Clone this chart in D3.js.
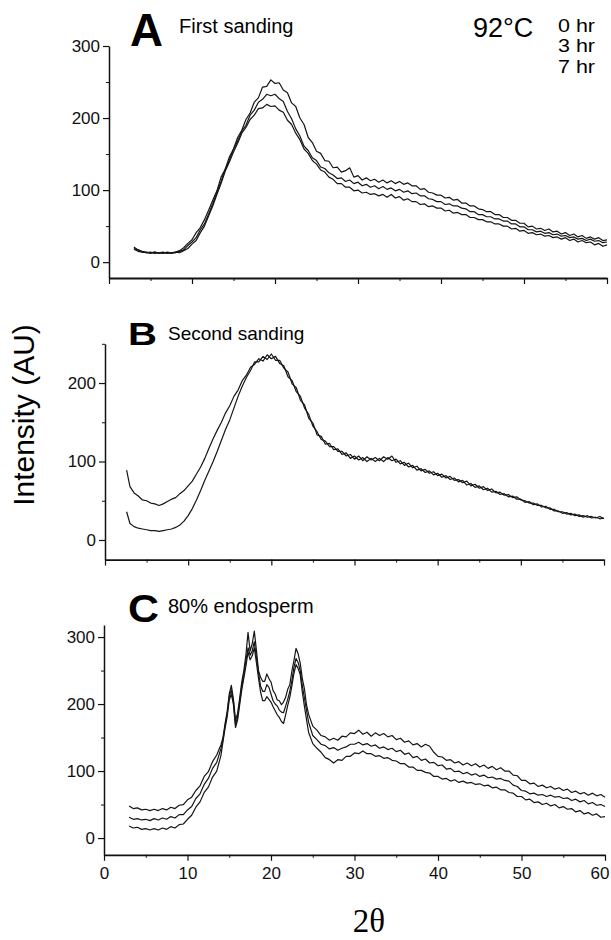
<!DOCTYPE html>
<html>
<head>
<meta charset="utf-8">
<script src="https://cdn.jsdelivr.net/npm/d3@7"></script>
<style>
  body { margin: 0; background: #fff; }
  svg { display: block; font-family: "Liberation Sans", Arial, sans-serif; }
  .axis path, .axis line { stroke: #111; }
  .axis text { fill: #111; }
</style>
</head>
<body>
<svg width="611" height="940"></svg>
<script>
// 2-theta grid (deg) for panels A and B
const theta = [
  3, 3.5, 4, 4.5, 5, 5.5, 6, 6.5, 7, 7.5,
  8, 8.5, 9, 9.5, 10, 10.5, 11, 11.5, 12, 12.5,
  13, 13.5, 14, 14.5, 15, 15.5, 16, 16.5, 17, 17.5,
  18, 18.5, 19, 19.5, 20, 20.5, 21, 21.5, 22, 22.5,
  23, 23.5, 24, 24.5, 25, 25.5, 26, 26.5, 27, 27.5,
  28, 28.5, 29, 29.5, 30, 30.5, 31, 31.5, 32, 32.5,
  33, 33.5, 34, 34.5, 35, 35.5, 36, 36.5, 37, 37.5,
  38, 38.5, 39, 39.5, 40, 40.5, 41, 41.5, 42, 42.5,
  43, 43.5, 44, 44.5, 45, 45.5, 46, 46.5, 47, 47.5,
  48, 48.5, 49, 49.5, 50, 50.5, 51, 51.5, 52, 52.5,
  53, 53.5, 54, 54.5, 55, 55.5, 56, 56.5, 57, 57.5,
  58, 58.5, 59, 59.5, 60
];
// panel B scan starts a little earlier
const thetaB = [2.6].concat(theta);

// panel C grid is finer round the crystalline peaks
const thetaC = [
  3, 3.5, 4, 4.5, 5, 5.5, 6, 6.5, 7, 7.5, 8, 8.5, 9, 9.5, 10, 10.5, 11, 11.5, 12, 12.5, 13, 13.5, 14,
  14.25, 14.5, 14.75, 15, 15.25, 15.5, 15.75, 16, 16.25, 16.5,
  16.75, 17, 17.25, 17.5, 17.75, 18, 18.25, 18.5, 18.75, 19,
  19.25, 19.5, 19.75, 20, 20.25, 20.5, 20.75, 21, 21.25, 21.5,
  21.75, 22, 22.25, 22.5, 22.75, 23, 23.25, 23.5, 23.75, 24,
  24.25, 24.5,
  25, 25.5, 26, 26.5, 27, 27.5, 28, 28.5, 29, 29.5,
  30, 30.5, 31, 31.5, 32, 32.5, 33, 33.5, 34, 34.5,
  35, 35.5, 36, 36.5, 37, 37.5, 38, 38.5, 39, 39.5,
  40, 40.5, 41, 41.5, 42, 42.5, 43, 43.5, 44, 44.5,
  45, 45.5, 46, 46.5, 47, 47.5, 48, 48.5, 49, 49.5,
  50, 50.5, 51, 51.5, 52, 52.5, 53, 53.5, 54, 54.5,
  55, 55.5, 56, 56.5, 57, 57.5, 58, 58.5, 59, 59.5,
  60
];

// A: first sanding, 0 / 3 / 7 hr at 92°C
const firstA = [
  21, 17, 15, 14, 13, 14, 13, 12, 14, 13,
  14, 16, 20, 26, 31, 41, 48, 59, 72, 86,
  99, 118, 129, 146, 157, 173, 183, 198, 207, 222,
  228, 243, 244, 253, 248, 249, 239, 235, 221, 216,
  200, 191, 173, 166, 154, 151, 141, 140, 131, 132,
  125, 127, 131, 118, 120, 114, 117, 113, 115, 111,
  114, 110, 113, 109, 112, 108, 110, 106, 106, 101,
  102, 97, 96, 93, 93, 89, 90, 86, 87, 82,
  82, 78, 78, 74, 73, 70, 70, 66, 66, 62,
  62, 58, 58, 54, 54, 49, 50, 46, 47, 44,
  46, 42, 43, 39, 41, 37, 39, 35, 37, 33,
  35, 32, 34, 30, 31
];
const firstB = [
  19, 17, 14, 13, 14, 12, 13, 14, 12, 13,
  13, 15, 17, 23, 28, 34, 45, 53, 67, 81,
  97, 112, 129, 141, 157, 168, 182, 190, 204, 211,
  222, 226, 233, 231, 233, 227, 223, 209, 199, 185,
  175, 161, 155, 145, 141, 132, 130, 124, 121, 116,
  117, 112, 114, 109, 111, 106, 108, 104, 106, 102,
  105, 101, 103, 99, 101, 97, 99, 95, 96, 92,
  92, 88, 87, 84, 84, 80, 81, 78, 78, 75,
  74, 70, 70, 66, 66, 63, 63, 60, 60, 57,
  57, 53, 53, 49, 49, 45, 45, 42, 43, 40,
  41, 38, 39, 36, 37, 34, 35, 32, 33, 30,
  32, 29, 30, 27, 28
];
const firstC = [
  18, 15, 14, 13, 12, 14, 12, 13, 13, 12,
  14, 13, 16, 19, 25, 30, 41, 50, 64, 78,
  94, 109, 126, 139, 153, 165, 179, 187, 198, 204,
  213, 214, 219, 216, 217, 211, 208, 197, 191, 179,
  170, 157, 151, 141, 136, 128, 125, 118, 115, 109,
  109, 104, 104, 99, 100, 96, 97, 94, 95, 92,
  94, 90, 94, 89, 91, 86, 88, 84, 84, 80,
  81, 77, 78, 75, 75, 71, 72, 68, 69, 66,
  66, 62, 62, 59, 59, 56, 56, 53, 53, 50,
  50, 46, 47, 43, 44, 40, 41, 38, 39, 36,
  37, 34, 35, 32, 34, 30, 32, 28, 30, 27,
  28, 24, 26, 22, 24
];

// B: second sanding
const secondA = [
  89,
  68, 60, 56, 51, 50, 47, 46, 44, 46, 49,
  52, 54, 59, 63, 69, 75, 84, 93, 104, 117,
  129, 140, 150, 162, 171, 183, 191, 203, 210, 220,
  224, 231, 228, 236, 231, 234, 225, 222, 208, 203,
  189, 183, 168, 160, 145, 138, 128, 126, 119, 119,
  113, 113, 107, 109, 103, 107, 101, 106, 102, 105,
  101, 106, 103, 107, 99, 101, 95, 98, 92, 94,
  88, 90, 85, 87, 82, 84, 79, 81, 76, 77,
  73, 75, 69, 71, 66, 68, 63, 65, 60, 61,
  57, 58, 54, 55, 51, 50, 47, 47, 44, 44,
  41, 41, 37, 37, 34, 35, 32, 33, 30, 31,
  29, 30, 28, 30, 27
];
const secondB = [
  36,
  21, 17, 15, 14, 13, 12, 12, 11, 12, 13,
  14, 16, 19, 24, 31, 40, 51, 63, 76, 88,
  100, 113, 127, 141, 153, 168, 183, 196, 207, 216,
  227, 227, 234, 230, 237, 229, 229, 219, 214, 199,
  194, 178, 172, 155, 149, 134, 132, 122, 123, 115,
  116, 109, 111, 104, 107, 102, 105, 100, 104, 100,
  104, 100, 105, 101, 103, 97, 99, 93, 95, 89,
  91, 86, 88, 83, 85, 80, 82, 77, 79, 74,
  76, 70, 72, 67, 69, 64, 66, 61, 62, 58,
  59, 55, 56, 52, 52, 48, 49, 45, 46, 42,
  43, 39, 39, 36, 36, 33, 34, 31, 32, 29,
  31, 28, 29, 27, 28
];

// C: 80% endosperm
const endoA = [
  48, 44, 45, 42, 43, 41, 43, 41, 44, 42, 46, 44, 49, 50, 57, 61, 71, 78, 92, 99, 114, 124, 139,
  150, 171, 189, 215, 228, 207, 176, 186, 209, 233,
  250, 274, 307, 279, 290, 309, 281, 250, 240, 234,
  234, 245, 238, 233, 220, 215, 206, 205, 199, 203,
  210, 222, 229, 249, 265, 283, 275, 261, 238, 223,
  199, 185,
  167, 161, 153, 151, 146, 149, 146, 152, 151, 157,
  156, 161, 155, 158, 152, 157, 153, 156, 151, 153,
  147, 149, 143, 145, 139, 141, 136, 140, 137, 128,
  122, 121, 116, 117, 112, 114, 109, 112, 108, 111,
  106, 109, 104, 107, 102, 105, 100, 100, 94, 93,
  86, 86, 81, 82, 77, 79, 75, 77, 73, 75,
  71, 73, 68, 70, 66, 68, 64, 67, 63, 65,
  61
];
const endoB = [
  31, 28, 29, 27, 28, 26, 29, 27, 30, 28, 32, 30, 35, 35, 42, 47, 59, 66, 80, 89, 104, 113, 133,
  147, 168, 185, 211, 221, 204, 170, 181, 204, 227,
  245, 265, 284, 273, 279, 293, 270, 247, 227, 219,
  219, 229, 225, 215, 205, 200, 197, 191, 188, 187,
  197, 207, 219, 235, 255, 268, 262, 250, 228, 209,
  191, 173,
  153, 147, 140, 138, 133, 135, 131, 134, 136, 140,
  140, 143, 139, 141, 137, 139, 134, 136, 132, 134,
  129, 131, 125, 127, 120, 122, 116, 118, 112, 113,
  108, 109, 103, 104, 99, 100, 96, 98, 94, 96,
  92, 94, 90, 91, 88, 89, 86, 85, 79, 77,
  71, 70, 66, 67, 64, 65, 62, 64, 61, 62,
  59, 60, 56, 58, 54, 56, 51, 53, 49, 50,
  47
];
const endoC = [
  18, 15, 16, 13, 14, 12, 14, 12, 15, 13, 17, 15, 20, 21, 28, 34, 46, 54, 68, 76, 91, 100, 123,
  144, 164, 181, 206, 215, 199, 165, 176, 199, 221,
  239, 257, 278, 266, 272, 284, 262, 239, 218, 205,
  205, 211, 207, 203, 196, 190, 184, 180, 174, 171,
  184, 198, 210, 227, 246, 259, 253, 244, 218, 197,
  177, 158,
  141, 134, 128, 120, 117, 112, 117, 116, 122, 122,
  127, 126, 130, 126, 126, 122, 123, 119, 120, 116,
  115, 111, 111, 106, 106, 101, 101, 98, 97, 92,
  92, 88, 89, 85, 87, 83, 85, 82, 83, 80,
  81, 78, 79, 75, 76, 72, 72, 68, 67, 62,
  62, 57, 58, 53, 54, 50, 52, 48, 50, 45,
  47, 43, 44, 39, 41, 36, 38, 34, 36, 31,
  32
];

const xMajor = [0, 10, 20, 30, 40, 50, 60];
const xMinor = [5, 15, 25, 35, 45, 55];
const legendTimes = ["0 hr", "3 hr", "7 hr"];

const svg = d3.select("svg");
svg.append("rect").attr("width", 611).attr("height", 940).attr("fill", "#fff");

const panels = [
  { letter: "A", title: "First sanding", x: theta, series: [firstA, firstB, firstC],
    xr: [109, 607], yd: [-22, 300], yr: [278, 46], yMajor: [0, 100, 200, 300], yMinor: [50, 150, 250],
    letterSize: 46, letterLen: 33, letterX: 130, letterY: 46, titleX: 179, titleY: 33, titleSize: 20, labels: false },
  { letter: "B", title: "Second sanding", x: thetaB, series: [secondA, secondB],
    xr: [105, 604], yd: [-25, 250], yr: [559.6, 343.8], yMajor: [0, 100, 200], yMinor: [50, 150, 250],
    letterSize: 31, letterLen: 29, letterX: 128, letterY: 345, titleX: 168, titleY: 340, titleSize: 19, labels: false },
  { letter: "C", title: "80% endosperm", x: thetaC, series: [endoA, endoB, endoC],
    xr: [104, 605], yd: [-25, 318], yr: [854.8, 625], yMajor: [0, 100, 200, 300], yMinor: [50, 150, 250],
    letterSize: 38, letterLen: 31, letterX: 128, letterY: 622, titleX: 168, titleY: 613, titleSize: 20, labels: true }
];

panels.forEach(p => {
  const x = d3.scaleLinear().domain([0, 60]).range(p.xr);
  const y = d3.scaleLinear().domain(p.yd).range(p.yr);
  const g = svg.append("g");

  // y axis: major + minor ticks
  g.append("g").attr("class", "axis")
    .attr("transform", `translate(${p.xr[0]},0)`)
    .call(d3.axisLeft(y).tickValues(p.yMajor).tickSize(6).tickSizeOuter(0).tickPadding(3))
    .call(a => a.select(".domain").attr("stroke-width", 1.5))
    .call(a => a.selectAll("line").attr("stroke-width", 1.2))
    .call(a => a.selectAll("text").attr("font-size", 17).attr("font-family", "Liberation Sans, Arial, sans-serif"));
  g.append("g").attr("class", "axis")
    .attr("transform", `translate(${p.xr[0]},0)`)
    .call(d3.axisLeft(y).tickValues(p.yMinor).tickSize(3).tickSizeOuter(0).tickFormat(""))
    .call(a => a.select(".domain").remove());

  // x axis
  g.append("g").attr("class", "axis")
    .attr("transform", `translate(0,${p.yr[0]})`)
    .call(d3.axisBottom(x).tickValues(xMajor).tickSize(6).tickSizeOuter(0).tickPadding(6)
      .tickFormat(p.labels ? d3.format("d") : ""))
    .call(a => a.select(".domain").attr("stroke-width", 1.8))
    .call(a => a.selectAll("line").attr("stroke-width", 1.2))
    .call(a => a.selectAll("text").attr("font-size", 17).attr("font-family", "Liberation Sans, Arial, sans-serif"))
    // last label sits just inside the page edge, as in the original
    .call(a => a.selectAll(".tick").filter(d => d === 60).select("text")
      .attr("text-anchor", "end").attr("dx", 4));
  g.append("g").attr("class", "axis")
    .attr("transform", `translate(0,${p.yr[0]})`)
    .call(d3.axisBottom(x).tickValues(xMinor).tickSize(3).tickSizeOuter(0).tickFormat(""))
    .call(a => a.select(".domain").remove());

  // traces
  const line = d3.line().x((d, i) => x(p.x[i])).y(d => y(d));
  g.selectAll("path.trace")
    .data(p.series)
    .join("path")
    .attr("class", "trace")
    .attr("d", line)
    .attr("fill", "none")
    .attr("stroke", "#151515")
    .attr("stroke-width", 1.2)
    .attr("stroke-linejoin", "round");

  // panel letter + title
  g.append("text")
    .attr("x", p.letterX).attr("y", p.letterY)
    .attr("font-size", p.letterSize).attr("font-weight", "bold")
    .attr("textLength", p.letterLen).attr("lengthAdjust", "spacingAndGlyphs")
    .text(p.letter);
  g.append("text")
    .attr("x", p.titleX).attr("y", p.titleY)
    .attr("font-size", p.titleSize)
    .text(p.title);
});

// temperature legend
svg.append("text")
  .attr("x", 473).attr("y", 37)
  .attr("font-size", 27)
  .text("92°C");
svg.append("g").selectAll("text")
  .data(legendTimes)
  .join("text")
  .attr("x", 558)
  .attr("y", (d, i) => 31.5 + i * 20.5)
  .attr("font-size", 18)
  .attr("textLength", 37).attr("lengthAdjust", "spacingAndGlyphs")
  .text(d => d);

// axis titles
svg.append("text")
  .attr("transform", "translate(34,415) rotate(-90)")
  .attr("text-anchor", "middle")
  .attr("font-size", 30)
  .text("Intensity (AU)");
svg.append("text")
  .attr("x", 369).attr("y", 932)
  .attr("text-anchor", "middle")
  .attr("font-family", "Liberation Serif, Times New Roman, serif")
  .attr("font-size", 33)
  .text("2θ");
</script>
</body>
</html>
